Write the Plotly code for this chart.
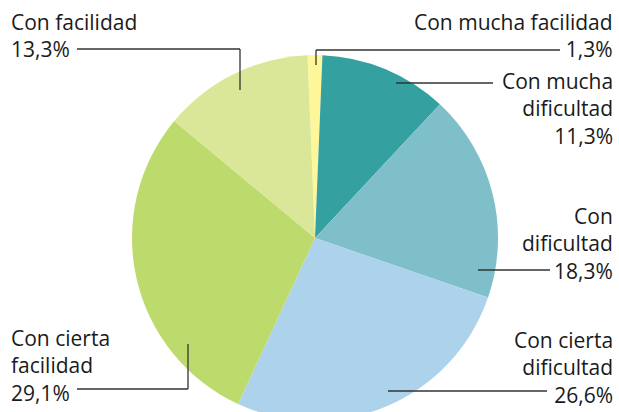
import plotly.graph_objects as go

# ---- data ----
labels = ["Con mucha facilidad", "Con mucha dificultad", "Con dificultad",
          "Con cierta dificultad", "Con cierta facilidad", "Con facilidad"]
values = [1.3, 11.3, 18.3, 26.6, 29.1, 13.3]
label_lines = ["Con mucha facilidad", "Con mucha<br>dificultad", "Con<br>dificultad",
               "Con cierta<br>dificultad", "Con cierta<br>facilidad", "Con facilidad"]
colors = ["#FEF79A", "#34A0A0", "#7EBFC9", "#ADD2EB", "#BDDB6C", "#DBE798"]

W, H = 619, 430

def px(x):
    return x / W

def py(y):
    return 1 - y / H

# label layout (pixel positions)
label_pos = [
    dict(x=614, y=35, anchor="right"),
    dict(x=614, y=108, anchor="right"),
    dict(x=614, y=243, anchor="right"),
    dict(x=614, y=367, anchor="right"),
    dict(x=10, y=365, anchor="left"),
    dict(x=10, y=35, anchor="left"),
]
leaders = [
    [(316, 65), (316, 50), (560, 50)],
    [(396, 83), (493, 83)],
    [(478, 270), (550, 270)],
    [(388, 391), (547, 391)],
    [(188, 344), (188, 389), (77, 389)],
    [(240, 90), (240, 49), (77, 49)],
]

cx, cy, r = 315, 238, 183

fig = go.Figure(go.Pie(
    labels=labels,
    values=values,
    sort=False,
    direction="clockwise",
    rotation=-2.35,
    marker=dict(colors=colors, line=dict(width=0)),
    textinfo="none",
    hoverinfo="skip",
    showlegend=False,
    domain=dict(x=[px(cx - r), px(cx + r)], y=[py(cy + r), py(cy - r)]),
))

annotations = []
for lab, val, pos in zip(label_lines, values, label_pos):
    txt = lab + "<br>" + f"{val:.1f}".replace(".", ",") + "%"
    annotations.append(dict(
        x=px(pos["x"]), y=py(pos["y"]), xref="paper", yref="paper",
        text=txt, showarrow=False, xanchor=pos["anchor"], yanchor="middle",
        align=pos["anchor"], borderpad=0,
        font=dict(family="Open Sans", size=21, color="#1a1a1a"),
    ))

shapes = []
for pts in leaders:
    for (x0, y0), (x1, y1) in zip(pts[:-1], pts[1:]):
        shapes.append(dict(type="line", xref="paper", yref="paper",
                           x0=px(x0), y0=py(y0), x1=px(x1), y1=py(y1),
                           line=dict(color="#333333", width=1.3), layer="above"))

fig.update_layout(
    width=W, height=H,
    margin=dict(l=0, r=0, t=0, b=0),
    paper_bgcolor="white", plot_bgcolor="white",
    annotations=annotations, shapes=shapes,
)

fig.write_html("out.html", config={"displayModeBar": False},
               post_script="document.body.style.margin='0';document.body.style.overflow='hidden';")
